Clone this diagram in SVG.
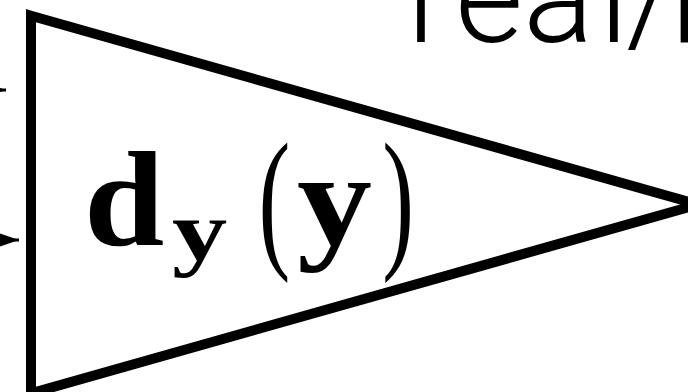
<svg xmlns="http://www.w3.org/2000/svg" width="688" height="392" viewBox="0 0 688 392">
  <style>
    .shape { fill: #ffffff; stroke: #000000; stroke-width: 10; stroke-linejoin: miter; stroke-miterlimit: 10; }
    .wire { fill: none; stroke: #000000; stroke-width: 3; }
    .label { font-family: "Roboto", "Liberation Sans", sans-serif; font-weight: 300; font-size: 132px; fill: #000000; }
    .math { font-family: "Liberation Serif", "Times New Roman", serif; font-weight: bold; fill: #000000; }
    .paren { font-family: "Liberation Serif", "Times New Roman", serif; font-weight: normal; fill: #000000; }
  </style>
  <defs>
    <marker id="arrow" markerUnits="userSpaceOnUse" markerWidth="26" markerHeight="18" refX="26" refY="9" orient="auto">
      <path d="M0,0 L26,9 L0,18 Z" fill="#000000"/>
    </marker>
  </defs>
  <rect width="688" height="392" fill="#ffffff"/>
  <g id="connectors">
    <line class="wire" x1="-80" y1="90" x2="6" y2="90" marker-end="url(#arrow)"/>
    <line class="wire" x1="-80" y1="240" x2="19" y2="240" marker-end="url(#arrow)"/>
  </g>
  <g id="discriminator">
    <polygon class="shape" points="31,15.7 698,204.5 31,393.3"/>
    <text class="math" font-size="135" transform="translate(84,245) scale(1.07,1)">d</text>
    <text class="math" font-size="85" transform="translate(172,260) scale(1.3,1)">y</text>
    <text class="paren" font-size="154" transform="translate(258.4,250) scale(0.62,1)">(</text>
    <text class="math" font-size="134" transform="translate(297,245) scale(1.12,1)">y</text>
    <text class="paren" font-size="154" transform="translate(382.2,250) scale(0.62,1)">)</text>
  </g>
  <g id="output-label">
    <text class="label" x="407 455 523 599 626 665" y="42">real/fake</text>
  </g>
</svg>
